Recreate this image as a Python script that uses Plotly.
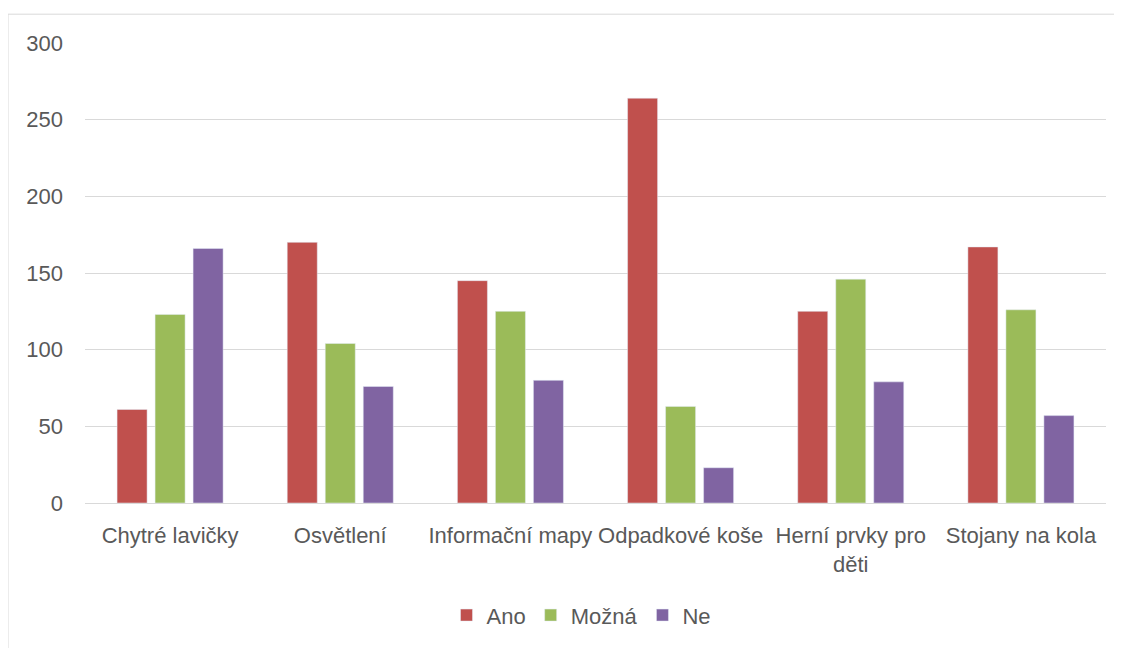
import plotly.graph_objects as go

categories = ["Chytré lavičky", "Osvětlení", "Informační mapy", "Odpadkové koše", "Herní prvky pro<br>děti", "Stojany na kola"]
ano = [61, 170, 145, 264, 125, 167]
mozna = [123, 104, 125, 63, 146, 126]
ne = [166, 76, 80, 23, 79, 57]
y_ticks = [0, 50, 100, 150, 200, 250, 300]

font_family = "Liberation Sans, Open Sans, sans-serif"
text_color = "#595959"

W, H = 1114, 640
L, R, T, B = 77, 16, 35, 142
PW, PH = W - L - R, H - T - B

fig = go.Figure()
fig.add_trace(go.Bar(name="Ano", x=categories, y=ano, marker_color="#C0504D"))
fig.add_trace(go.Bar(name="Možná", x=categories, y=mozna, marker_color="#9BBB59"))
fig.add_trace(go.Bar(name="Ne", x=categories, y=ne, marker_color="#8064A2"))

fig.update_layout(
    width=W, height=H,
    barmode="group", bargap=0.33, bargroupgap=0.21,
    plot_bgcolor="white", paper_bgcolor="white",
    margin=dict(l=L, r=R, t=T, b=B),
    font=dict(family=font_family, size=22, color=text_color),
    showlegend=True,
    legend=dict(orientation="h", x=0.5 - 14 / PW, xanchor="center", y=-(619 - 8 - (T + PH)) / PH, yanchor="middle",
                font=dict(size=22, color=text_color), traceorder="normal", itemwidth=30),
    xaxis=dict(showgrid=False, showline=False, ticks="", tickfont=dict(size=22), ticklabelstandoff=17),
    yaxis=dict(range=[0, 300], tickvals=y_ticks, showgrid=True, gridcolor="#D9D9D9",
               gridwidth=1, zeroline=True, zerolinecolor="#D9D9D9", zerolinewidth=1,
               showline=False, ticks="", tickfont=dict(size=22), ticklabelstandoff=21),
    shapes=[dict(type="rect", xref="paper", yref="paper",
                 x0=-L / PW, x1=(W + 20 - L) / PW, y0=-(B + 20) / PH, y1=(PH + T - 6) / PH,
                 line=dict(color="#D9D9D9", width=1), fillcolor="rgba(0,0,0,0)", layer="below")],
)

fig.write_html("out.html")
